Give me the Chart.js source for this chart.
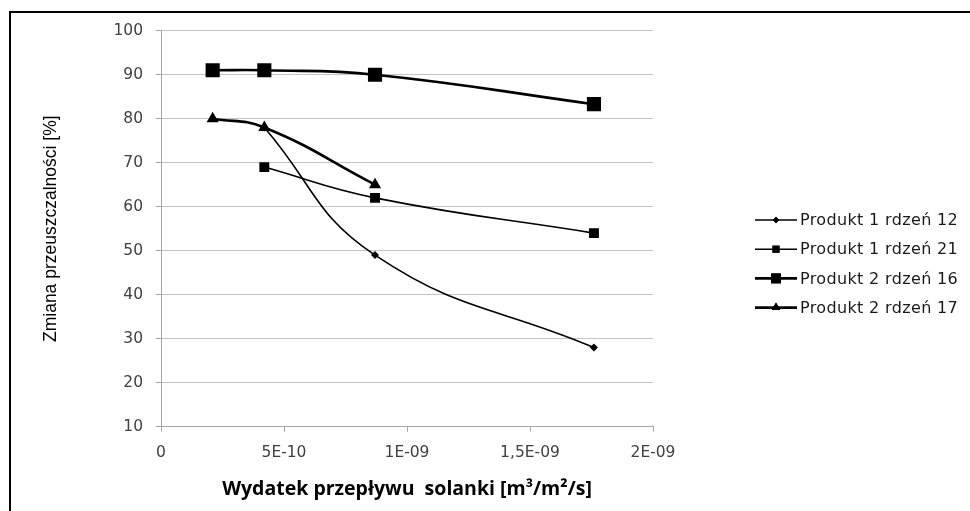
<!DOCTYPE html>
<html>
<head>
<meta charset="utf-8">
<script src="https://cdn.jsdelivr.net/npm/chart.js@4"></script>
<style>
  html, body { margin: 0; padding: 0; background: #fff; }
  #wrap { position: relative; width: 970px; height: 511px; overflow: hidden; }
  #frame { position: absolute; left: 9px; top: 11px; right: -10px; bottom: -10px; border-left: 2px solid #000; border-top: 2px solid #000; pointer-events: none; }
  canvas { position: absolute; left: 0; top: 0; }
</style>
</head>
<body>
<div id="wrap">
  <canvas id="c" width="970" height="511"></canvas>
  <div id="frame"></div>
</div>
<script>
// ---- data ----
const seriesNames = ["Produkt 1 rdzeń 12", "Produkt 1 rdzeń 21", "Produkt 2 rdzeń 16", "Produkt 2 rdzeń 17"];
const p1r12_x = [4.2e-10, 8.7e-10, 1.76e-9];
const p1r12_y = [78, 49, 28];
const p1r21_x = [4.2e-10, 8.7e-10, 1.76e-9];
const p1r21_y = [69, 62, 54];
const p2r16_x = [2.1e-10, 4.2e-10, 8.7e-10, 1.76e-9];
const p2r16_y = [91, 91, 90, 83.3];
const p2r17_x = [2.1e-10, 4.2e-10, 8.7e-10];
const p2r17_y = [80, 78, 65];
const xTickLabels = ["0", "5E-10", "1E-09", "1,5E-09", "2E-09"];
const yTicks = [10, 20, 30, 40, 50, 60, 70, 80, 90, 100];
const xTitle = "Wydatek przepływu  solanki [m³/m²/s]";
const yTitle = "Zmiana przeuszczalności [%]";

function pts(xs, ys) { return xs.map((x, i) => ({x: x, y: ys[i]})); }

const styles = [
  {pointStyle: 'rectRot', radius: 4, borderWidth: 1.6, legendRadius: 3.2},
  {pointStyle: 'rect', radius: 7, borderWidth: 1.6, legendRadius: 5},
  {pointStyle: 'rect', radius: 10, borderWidth: 2.6, legendRadius: 7},
  {pointStyle: 'triangle', radius: 7, borderWidth: 2.6, legendRadius: 5}
];
const dataArrays = [pts(p1r12_x, p1r12_y), pts(p1r21_x, p1r21_y), pts(p2r16_x, p2r16_y), pts(p2r17_x, p2r17_y)];

const datasets = dataArrays.map((d, i) => ({
  label: seriesNames[i],
  data: d,
  showLine: true,
  borderColor: '#000',
  backgroundColor: '#000',
  borderWidth: styles[i].borderWidth,
  pointStyle: styles[i].pointStyle,
  pointRadius: styles[i].radius,
  pointHoverRadius: styles[i].radius,
  pointBackgroundColor: '#000',
  pointBorderColor: '#000',
  pointBorderWidth: 0,
  tension: 0.45,
  legendRadius: styles[i].legendRadius
}));

const legendPlugin = {
  id: 'sideLegend',
  afterDraw(chart) {
    const ctx = chart.ctx;
    ctx.save();
    chart.data.datasets.forEach((ds, i) => {
      const y = 220 + i * 29.2;
      ctx.strokeStyle = '#000';
      ctx.lineWidth = ds.borderWidth;
      ctx.beginPath();
      ctx.moveTo(755, y);
      ctx.lineTo(797, y);
      ctx.stroke();
      ctx.fillStyle = '#000';
      Chart.helpers.drawPoint(ctx, {pointStyle: ds.pointStyle, radius: ds.legendRadius, rotation: 0, borderWidth: 0}, 776, y);
      ctx.fill();
      ctx.fillStyle = '#1a1a1a';
      ctx.font = '16px "DejaVu Sans"';
      if ('letterSpacing' in ctx) ctx.letterSpacing = '0.35px';
      ctx.textBaseline = 'middle';
      ctx.textAlign = 'left';
      ctx.fillText(ds.label, 800, y + 1);
    });
    ctx.restore();
  }
};

Chart.defaults.font.family = '"DejaVu Sans", sans-serif';
Chart.defaults.color = '#404040';

new Chart(document.getElementById('c'), {
  type: 'scatter',
  data: { datasets: datasets },
  options: {
    responsive: false,
    animation: false,
    devicePixelRatio: 1,
    layout: { padding: { left: 0, top: 30.7, right: 317, bottom: 0 } },
    plugins: { legend: { display: false }, tooltip: { enabled: false } },
    scales: {
      x: {
        type: 'linear',
        min: 0, max: 2e-9,
        afterBuildTicks(scale) { scale.ticks = xTickLabels.map((_, i) => ({value: i * 5e-10})); },
        afterFit(scale) { scale.height = 84.3; },
        ticks: {
          callback: (v, i) => xTickLabels[i],
          font: { size: 15.5 },
          color: '#404040',
          padding: 12,
          maxRotation: 0
        },
        grid: { drawOnChartArea: false, drawTicks: true, tickLength: 5, color: '#a6a6a6' },
        border: { display: true, color: '#a6a6a6', width: 1 },
        title: {
          display: true, text: xTitle, color: '#000',
          font: { size: 19.5, weight: 'bold', family: '"Open Sans", sans-serif' },
          padding: { top: 0, bottom: 10 }
        }
      },
      y: {
        min: 10, max: 100,
        afterBuildTicks(scale) { scale.ticks = yTicks.map(v => ({value: v})); },
        afterFit(scale) { scale.width = 161; },
        ticks: { font: { size: 15.5 }, color: '#404040', padding: 13 },
        grid: { color: '#c4c4c4', lineWidth: 1, drawTicks: true, tickLength: 5, tickColor: '#a6a6a6' },
        border: { display: true, color: '#a6a6a6', width: 1 },
        title: {
          display: true, text: yTitle, color: '#000',
          font: { size: 17.5, family: '"Liberation Sans Narrow", "Liberation Sans", sans-serif' },
          padding: { top: 41, bottom: 0 }
        }
      }
    }
  },
  plugins: [legendPlugin]
});
</script>
</body>
</html>
